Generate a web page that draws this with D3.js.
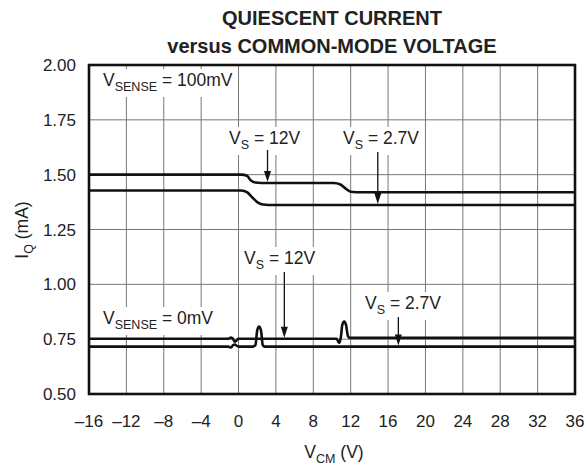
<!DOCTYPE html>
<html><head><meta charset="utf-8">
<script src="https://cdn.jsdelivr.net/npm/d3@7"></script>
<style>body{margin:0;background:#fff}text{font-family:"Liberation Sans",Arial,sans-serif;fill:#222}</style>
</head><body><svg id="c" width="587" height="466"></svg>
<script>
const xTicks = [-16,-12,-8,-4,0,4,8,12,16,20,24,28,32,36];
const yTicks = [0.50,0.75,1.00,1.25,1.50,1.75,2.00];
// V_SENSE = 100mV
const s100a_x = [-16,0.3,0.9,1.3,1.8,2.4,10.2,10.9,11.5,12.0,12.6,36];
const s100a_y = [1.500,1.500,1.495,1.475,1.464,1.462,1.462,1.455,1.435,1.422,1.420,1.420];
const s100b_x = [-16,0.3,0.9,1.5,2.0,2.6,3.2,36];
const s100b_y = [1.428,1.428,1.420,1.395,1.375,1.364,1.362,1.362];
// V_SENSE = 0mV
const s0a_x = [-16,-1.1,-0.8,-0.6,-0.4,-0.2,0.0,10.5,10.75,10.95,11.1,11.3,11.5,11.7,11.9,36];
const s0a_y = [0.752,0.752,0.757,0.752,0.738,0.745,0.752,0.752,0.733,0.760,0.815,0.830,0.815,0.765,0.756,0.756];
const s0b_x = [-16,-1.1,-0.8,-0.6,-0.4,-0.2,0.0,1.5,1.8,2.0,2.2,2.4,2.6,2.8,3.0,36];
const s0b_y = [0.716,0.716,0.712,0.722,0.726,0.720,0.716,0.716,0.722,0.790,0.808,0.790,0.722,0.716,0.716,0.716];

const svg = d3.select("#c");
const L=89,R=575,T=65,B=394;
const x = d3.scaleLinear().domain([-16,36]).range([L,R]);
const y = d3.scaleLinear().domain([0.5,2.0]).range([B,T]);
const FS=17.5, SUB=12.5;

// grid
svg.append("g").selectAll("line").data(xTicks.slice(1,-1)).join("line")
 .attr("x1",d=>x(d)).attr("x2",d=>x(d)).attr("y1",T).attr("y2",B)
 .attr("stroke","#777").attr("stroke-width",1);
svg.append("g").selectAll("line").data(yTicks.slice(1,-1)).join("line")
 .attr("y1",d=>y(d)).attr("y2",d=>y(d)).attr("x1",L).attr("x2",R)
 .attr("stroke","#777").attr("stroke-width",1);

// annotations with white boxes
function label(lx,cy,main,sub,rest){
  const g=svg.append("g");
  const t=g.append("text").attr("x",lx).attr("y",cy).attr("font-size",FS);
  t.append("tspan").text(main);
  t.append("tspan").attr("font-size",SUB).attr("dy",5).text(sub);
  t.append("tspan").attr("dy",-5).text(rest);
  const bb=t.node().getBBox();
  g.insert("rect","text").attr("x",bb.x-3).attr("y",bb.y-1).attr("width",bb.width+6).attr("height",bb.height+4).attr("fill","#fff");
}
function arrow(xv,y0,yv){
  const px=x(xv);
  svg.append("line").attr("x1",px).attr("x2",px).attr("y1",y0).attr("y2",y(yv)-9).attr("stroke","#111").attr("stroke-width",1.3);
  svg.append("path").attr("d",`M${px-3.5},${y(yv)-12}L${px+3.5},${y(yv)-12}L${px},${y(yv)-1}Z`).attr("fill","#111");
}
label(103,86,"V","SENSE"," = 100mV");
label(229,144,"V","S"," = 12V");
label(343,144,"V","S"," = 2.7V");
label(103,324,"V","SENSE"," = 0mV");
label(244,264,"V","S"," = 12V");
label(365,309,"V","S"," = 2.7V");
arrow(3.1,150,1.462);
arrow(14.9,152,1.362);
arrow(4.9,272,0.752);
arrow(17.1,317,0.716);

// curves
const line=d3.line().x(d=>x(d[0])).y(d=>y(d[1])).curve(d3.curveMonotoneX);
[[s100a_x,s100a_y],[s100b_x,s100b_y],[s0a_x,s0a_y],[s0b_x,s0b_y]].forEach(([xs,ys])=>{
  svg.append("path").attr("d",line(d3.zip(xs,ys))).attr("fill","none").attr("stroke","#111").attr("stroke-width",2.6);
});

// frame
svg.append("rect").attr("x",L).attr("y",T).attr("width",R-L).attr("height",B-T)
 .attr("fill","none").attr("stroke","#111").attr("stroke-width",2.6);

// tick labels
svg.append("g").selectAll("text").data(yTicks).join("text")
 .attr("x",76).attr("y",d=>y(d)+6).attr("text-anchor","end").attr("font-size",17).text(d=>d.toFixed(2));
svg.append("g").selectAll("text").data(xTicks).join("text")
 .attr("x",d=>x(d)).attr("y",427).attr("text-anchor","middle").attr("font-size",17).text(d=>d<0?"\u2013"+(-d):d);

// axis titles
const xt=svg.append("text").attr("x",334).attr("y",458).attr("text-anchor","middle").attr("font-size",FS);
xt.append("tspan").text("V");xt.append("tspan").attr("font-size",SUB).attr("dy",5).text("CM");xt.append("tspan").attr("dy",-5).text(" (V)");
const yt=svg.append("text").attr("transform","translate(28,230) rotate(-90)").attr("text-anchor","middle").attr("font-size",FS);
yt.append("tspan").text("I");yt.append("tspan").attr("font-size",SUB).attr("dy",5).text("Q");yt.append("tspan").attr("dy",-5).text(" (mA)");

// title
svg.append("text").attr("x",332).attr("y",25).attr("text-anchor","middle").attr("font-size",20).attr("font-weight","bold").text("QUIESCENT CURRENT");
svg.append("text").attr("x",332).attr("y",53).attr("text-anchor","middle").attr("font-size",20).attr("font-weight","bold").text("versus COMMON-MODE VOLTAGE");
</script></body></html>
